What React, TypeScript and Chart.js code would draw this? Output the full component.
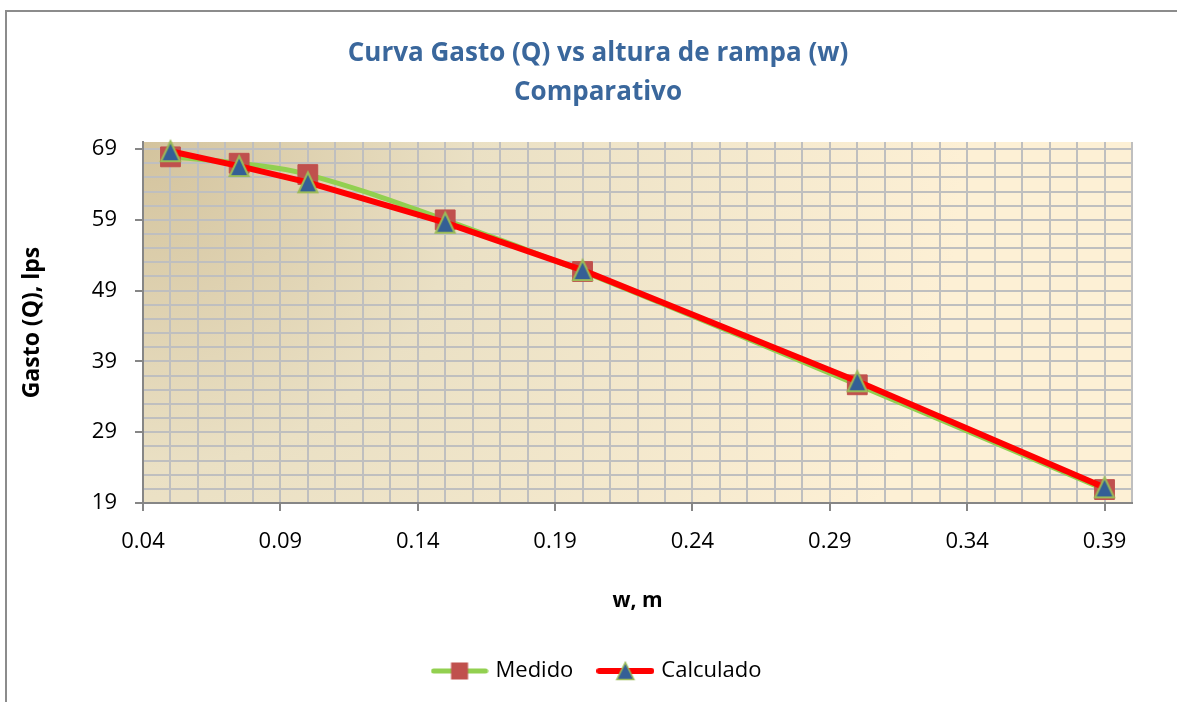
import React, { useEffect, useRef } from 'react';
import { Chart, registerables } from 'chart.js';

Chart.register(...registerables);

// ---- data ----
const wValues = [0.05, 0.075, 0.1, 0.15, 0.2, 0.3, 0.39];
const medido = [67.9, 67.0, 65.4, 59.0, 51.7, 35.7, 20.9];
const calculado = [68.7, 66.6, 64.3, 58.6, 51.9, 36.2, 21.2];
const xMajorTicks = [0.04, 0.09, 0.14, 0.19, 0.24, 0.29, 0.34, 0.39];
const yMajorTicks = [19, 29, 39, 49, 59, 69];
const titleLines = ['Curva Gasto (Q) vs altura de rampa (w)', 'Comparativo'];
const seriesNames = ['Medido', 'Calculado'];
const xTitle = 'w, m';
const yTitle = 'Gasto (Q), lps';

const X_MIN = 0.04, X_MAX = 0.4, X_MINOR = 0.01;
const Y_MIN = 19, Y_MAX = 70, Y_MINOR = 2;

// ---- styles ----
const FONT = '"Open Sans", Lato, sans-serif';
const GREEN = '#92D050';
const RED = '#FF0000';
const SQ = '#C0504D';
const TRI = '#345F95';
const TRI_BORDER = '#9BBB59';
const GRID = '#BFBFBF';
const AXIS = '#868686';
const TITLE_COLOR = '#3A679C';
const CANVAS_W = 1196;
const CANVAS_H = 702;

const xGrid: number[] = [];
for (let i = 0; X_MIN + i * X_MINOR <= X_MAX + 1e-9; i++) xGrid.push(Math.round((X_MIN + i * X_MINOR) * 100) / 100);
const yGrid: number[] = [];
for (let v = Y_MIN; v <= Y_MAX - 1 + 1e-9; v += Y_MINOR) yGrid.push(v);

const isMajor = (list: number[], v: number) => list.some((t) => Math.abs(t - v) < 1e-9);

function drawTriangle(g: CanvasRenderingContext2D, cx: number, cy: number, w: number, h: number, lw: number) {
  g.beginPath();
  g.moveTo(cx, cy - h / 2);
  g.lineTo(cx + w / 2, cy + h / 2);
  g.lineTo(cx - w / 2, cy + h / 2);
  g.closePath();
  g.fillStyle = TRI;
  g.fill();
  g.lineWidth = lw;
  g.strokeStyle = TRI_BORDER;
  g.lineJoin = 'miter';
  g.stroke();
}

function triangleMarker(): HTMLCanvasElement {
  const c = document.createElement('canvas');
  c.width = 24;
  c.height = 26;
  const g = c.getContext('2d')!;
  drawTriangle(g, 12, 13, 19, 20, 2);
  return c;
}

function legendIcon(kind: 'square' | 'triangle'): HTMLCanvasElement {
  const c = document.createElement('canvas');
  c.width = 58;
  c.height = 22;
  const g = c.getContext('2d')!;
  g.lineCap = 'round';
  g.lineWidth = kind === 'square' ? 5 : 6;
  g.strokeStyle = kind === 'square' ? GREEN : RED;
  g.beginPath();
  g.moveTo(3, 11);
  g.lineTo(55, 11);
  g.stroke();
  if (kind === 'square') {
    g.fillStyle = SQ;
    g.fillRect(29 - 8.5, 11 - 8.5, 17, 17);
  } else {
    drawTriangle(g, 29, 11, 17, 17, 1.5);
  }
  return c;
}

const bgPlugin = {
  id: 'bgPlugin',
  beforeDraw(chart: any) {
    const { ctx, chartArea: a } = chart;
    ctx.save();
    const g = ctx.createRadialGradient(a.left, a.top, 0, a.left, a.top, 820);
    g.addColorStop(0, '#D3C39D');
    g.addColorStop(0.4, '#EAE0C4');
    g.addColorStop(1, '#FDF0D5');
    ctx.fillStyle = g;
    ctx.fillRect(a.left, a.top, a.right - a.left, a.bottom - a.top);
    ctx.strokeStyle = '#8C8C8C';
    ctx.lineWidth = 2;
    ctx.beginPath();
    ctx.moveTo(6, CANVAS_H);
    ctx.lineTo(6, 11);
    ctx.lineTo(CANVAS_W, 11);
    ctx.stroke();
    ctx.restore();
  },
};

export default function App() {
  const ref = useRef<HTMLCanvasElement>(null);

  useEffect(() => {
    if (!ref.current) return;
    const icons = [legendIcon('square'), legendIcon('triangle')];
    const tri = triangleMarker();
    const chart = new Chart(ref.current, {
      type: 'line',
      data: {
        datasets: [
          {
            label: seriesNames[0],
            data: wValues.map((x, i) => ({ x, y: medido[i] })),
            borderColor: GREEN,
            borderWidth: 5,
            tension: 0.4,
            pointStyle: 'rect',
            pointRadius: 14,
            pointBackgroundColor: SQ,
            pointBorderColor: SQ,
            pointBorderWidth: 1,
            order: 2,
            clip: false,
          } as any,
          {
            label: seriesNames[1],
            data: wValues.map((x, i) => ({ x, y: calculado[i] })),
            borderColor: RED,
            borderWidth: 6,
            tension: 0,
            pointStyle: tri,
            pointRadius: 11,
            pointBackgroundColor: TRI,
            pointBorderColor: TRI_BORDER,
            pointBorderWidth: 2,
            order: 1,
            clip: false,
          } as any,
        ],
      },
      options: {
        responsive: false,
        animation: false,
        events: [],
        layout: { padding: { left: 0, right: 0, top: 0, bottom: 10 } },
        plugins: {
          tooltip: { enabled: false },
          title: {
            display: true,
            text: titleLines,
            color: TITLE_COLOR,
            font: { family: FONT, size: 26, weight: 'bold', lineHeight: 39 / 26 },
            padding: { top: 34, bottom: 30 },
          },
          legend: {
            display: true,
            position: 'bottom',
            labels: {
              usePointStyle: true,
              pointStyleWidth: 50,
              boxHeight: 22,
              padding: 27,
              color: '#000',
              font: { family: FONT, size: 22 },
              generateLabels: () =>
                seriesNames.map((n, i) => ({
                  text: n,
                  pointStyle: icons[i] as any,
                  fillStyle: 'transparent',
                  strokeStyle: 'transparent',
                  lineWidth: 0,
                  hidden: false,
                  datasetIndex: i,
                  fontColor: '#000',
                })),
            },
          },
        },
        scales: {
          x: {
            type: 'linear',
            min: X_MIN,
            max: X_MAX,
            afterBuildTicks: (s: any) => {
              s.ticks = xGrid.map((v) => ({ value: v }));
            },
            afterFit: (s: any) => {
              s.height = 130;
            },
            ticks: {
              autoSkip: false,
              maxRotation: 0,
              padding: 18,
              color: '#000',
              font: { family: FONT, size: 22 },
              callback: (v: any) => {
                const m = xMajorTicks.find((t) => Math.abs(t - v) < 1e-9);
                return m !== undefined ? m.toFixed(2) : '';
              },
            },
            grid: {
              color: GRID,
              lineWidth: 2,
              tickLength: 8,
              tickWidth: 2,
              tickColor: (c: any) => (c.tick && isMajor(xMajorTicks, c.tick.value) ? AXIS : 'rgba(0,0,0,0)'),
            },
            border: { color: AXIS, width: 2 },
            title: {
              display: true,
              text: xTitle,
              color: '#000',
              font: { family: FONT, size: 21, weight: 'bold', lineHeight: 1.2 },
              padding: { top: 0, bottom: 19 },
            },
          },
          y: {
            type: 'linear',
            min: Y_MIN,
            max: Y_MAX,
            afterBuildTicks: (s: any) => {
              s.ticks = yGrid.map((v) => ({ value: v }));
            },
            afterFit: (s: any) => {
              s.width = 143;
            },
            ticks: {
              autoSkip: false,
              padding: 18,
              color: '#000',
              font: { family: FONT, size: 22 },
              callback: (v: any) => (isMajor(yMajorTicks, v) ? String(v) : ''),
            },
            grid: {
              color: GRID,
              lineWidth: 2,
              tickLength: 8,
              tickWidth: 2,
              tickColor: (c: any) => (c.tick && isMajor(yMajorTicks, c.tick.value) ? AXIS : 'rgba(0,0,0,0)'),
            },
            border: { color: AXIS, width: 2 },
            title: {
              display: true,
              text: yTitle,
              color: '#000',
              font: { family: FONT, size: 23, weight: 'bold', lineHeight: 1.2 },
              padding: { top: 19, bottom: 0 },
            },
          },
          yPad: {
            type: 'linear',
            position: 'right',
            min: Y_MIN,
            max: Y_MAX,
            display: true,
            afterFit: (s: any) => {
              s.width = CANVAS_W - 1132;
            },
            ticks: { display: false },
            grid: { display: false, drawOnChartArea: false, drawTicks: false },
            border: { display: false },
            title: { display: false },
          },
        },
      } as any,
      plugins: [bgPlugin],
    });
    return () => chart.destroy();
  }, []);

  return (
    <div style={{ position: 'absolute', left: 0, top: 0, width: 1177, height: 702, overflow: 'hidden' }}>
      <canvas ref={ref} width={CANVAS_W} height={CANVAS_H} style={{ display: 'block', width: CANVAS_W, height: CANVAS_H }} />
    </div>
  );
}
